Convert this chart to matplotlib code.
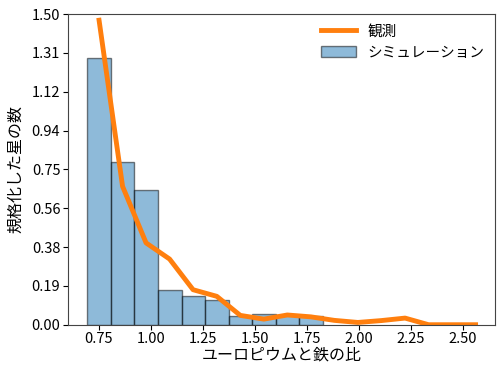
import numpy as np
import matplotlib
matplotlib.use("Agg")
import matplotlib.pyplot as plt

plt.rcParams['font.family'] = ['Noto Sans CJK JP', 'DejaVu Sans']

# シミュレーション (ヒストグラム)
bin_edges = np.linspace(0.696, 1.827, 11)
sim_heights = [1.29, 0.784, 0.652, 0.166, 0.137, 0.117, 0.043, 0.053, 0.045, 0.040]

# 観測 (ビン中心)
obs_x = [0.752, 0.865, 0.978, 1.091, 1.204, 1.318, 1.431, 1.544, 1.657,
         1.770, 1.883, 1.996, 2.109, 2.223, 2.336, 2.449, 2.562]
obs_y = [1.47, 0.668, 0.395, 0.317, 0.169, 0.137, 0.045, 0.027, 0.047,
         0.038, 0.021, 0.011, 0.02, 0.032, 0.0, 0.0, 0.0]

fig, ax = plt.subplots(figsize=(5.0, 3.69), dpi=100)

ax.bar(bin_edges[:-1], sim_heights, width=np.diff(bin_edges), align='edge',
       color='tab:blue', alpha=0.5, edgecolor='black', label='シミュレーション')
ax.plot(obs_x, obs_y, color='#ff7f0e', lw=3.5, label='観測')

ax.set_ylim(0, 1.5)
yt = np.linspace(0, 1.5, 9)
ax.set_yticks(yt)
ax.set_yticklabels([f'{v:.2f}' for v in yt])
xt = [0.75, 1.0, 1.25, 1.5, 1.75, 2.0, 2.25, 2.5]
ax.set_xticks(xt)
ax.set_xticklabels([f'{v:.2f}' for v in xt])
ax.tick_params(labelsize=10.5, pad=2)

ax.set_xlabel('ユーロピウムと鉄の比', fontsize=11.5, labelpad=0)
ax.set_ylabel('規格化した星の数', fontsize=11.5, labelpad=5)

for s in ax.spines.values():
    s.set_color('#444444')

ax.legend(frameon=False, fontsize=10.5, loc='upper right', handlelength=2.4,
          borderaxespad=0.3)

fig.subplots_adjust(left=0.136, right=0.99, top=0.962, bottom=0.12)
fig.savefig('out.png', dpi=100)
